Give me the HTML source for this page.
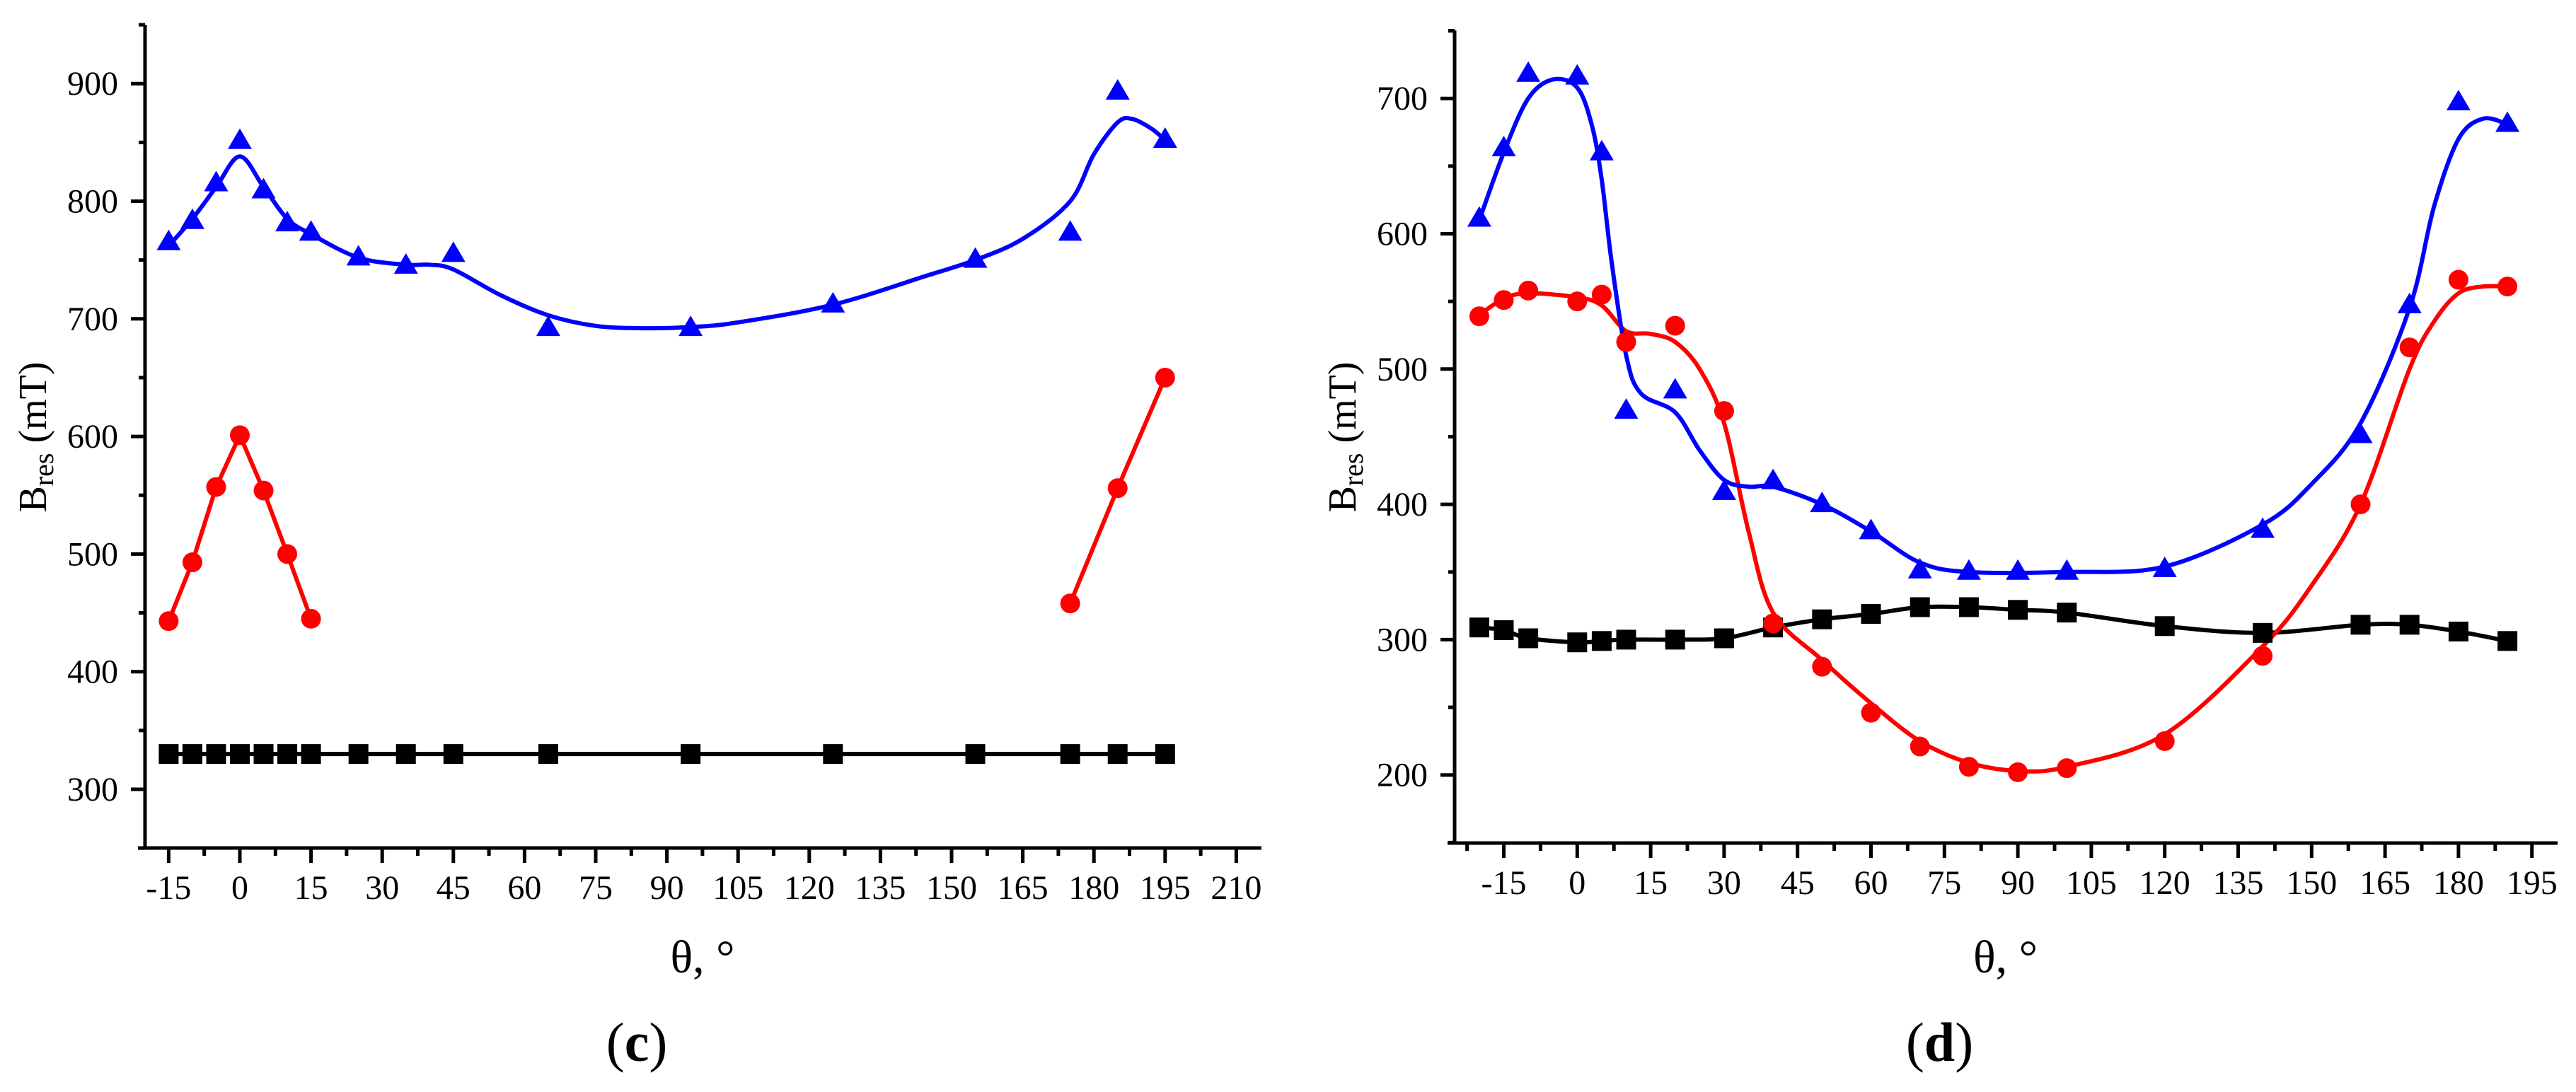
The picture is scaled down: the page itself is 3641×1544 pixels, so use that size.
<!DOCTYPE html>
<html><head><meta charset="utf-8"><style>
html,body{margin:0;padding:0;background:#fff;}
svg{display:block;font-family:"Liberation Serif",serif;}
</style></head><body>
<svg id="fig" width="3641" height="1544" viewBox="0 0 3641 1544" xmlns="http://www.w3.org/2000/svg"></svg>
<script>
// ---- Panel (c) data ----
const cX = [-15,-10,-5,0,5,10,15,25,35,45,65,95,125,155,175,185,195];
const cBlue = [765,783,815,851,809,781,773,752,745,755,692,692,712,750,773,893,852];
const cBlack = [330,330,330,330,330,330,330,330,330,330,330,330,330,330,330,330,330];
const cRedX1 = [-15,-10,-5,0,5,10,15];
const cRed1 = [443,493,557,601,554,500,445];
const cRedX2 = [175,185,195];
const cRed2 = [458,556,650];
const cFitX = [-15,-10,-5,0,5,10,15,25,35,40,45,55,65,75,85,95,105,125,145,155,165,175,180,185,188,192,195];
const cFitBlue = [762,785,812,838,812,785,772,752,746,746,742,720,703,694,692,693,697,712,737,750,768,800,840,867,870,862,852];
const cXTicks = [-15,0,15,30,45,60,75,90,105,120,135,150,165,180,195,210];
const cYTicks = [300,400,500,600,700,800,900];

// ---- Panel (d) data ----
const dX = [-20,-15,-10,0,5,10,20,30,40,50,60,70,80,90,100,120,140,160,170,180,190];
const dBlue = [611,663,718,716,660,469,484,409,417,400,380,351,350,350,350,352,381,451,547,697,681];
const dRed = [539,551,558,550,555,520,532,469,312,280,246,221,206,202,205,225,288,400,516,566,561];
const dBlack = [309,307,301,298,299,300,300,301,309,315,319,324,324,322,320,310,305,311,311,306,299];
const dFitBlueX = [-20,-15,-10,-5,0,3,5,7,10,13,20,25,30,35,40,50,60,70,80,100,120,140,150,160,170,175,180,185,190];
const dFitBlue = [610,660,700,714,708,680,640,580,510,482,468,440,418,413,413,400,380,357,350,350,354,385,415,460,545,620,670,685,681];
const dFitRedX = [-20,-15,-10,0,5,10,15,20,25,30,35,40,50,60,70,80,90,100,120,140,150,160,170,175,180,185,190];
const dFitRed = [540,552,556,553,547,528,526,520,500,460,380,320,285,253,225,209,203,206,230,295,340,400,500,535,556,561,561];
const dXTicks = [-15,0,15,30,45,60,75,90,105,120,135,150,165,180,195];
const dYTicks = [200,300,400,500,600,700];

const NS = "http://www.w3.org/2000/svg";
const svg = document.getElementById('fig');
function el(tag, attrs, parent){ const e=document.createElementNS(NS,tag); for(const k in attrs) e.setAttribute(k,attrs[k]); (parent||svg).appendChild(e); return e; }

function catmull(pts){
  if(pts.length<2) return '';
  let d='M'+pts[0][0].toFixed(1)+','+pts[0][1].toFixed(1);
  for(let i=0;i<pts.length-1;i++){
    const p0=pts[i-1]||pts[i], p1=pts[i], p2=pts[i+1], p3=pts[i+2]||pts[i+1];
    const c1=[p1[0]+(p2[0]-p0[0])/6, p1[1]+(p2[1]-p0[1])/6];
    const c2=[p2[0]-(p3[0]-p1[0])/6, p2[1]-(p3[1]-p1[1])/6];
    d+=' C'+c1[0].toFixed(1)+','+c1[1].toFixed(1)+' '+c2[0].toFixed(1)+','+c2[1].toFixed(1)+' '+p2[0].toFixed(1)+','+p2[1].toFixed(1);
  }
  return d;
}

function panel(cfg){
  const g = el('g',{});
  
  
  const X = v => cfg.x0 + (v - cfg.xv0) * cfg.xs;
  const Y = v => cfg.y0 - (v - cfg.yv0) * cfg.ys;
  const ya = el('line',{x1:cfg.axX,y1:cfg.axTop,x2:cfg.axX,y2:cfg.axY+2.5,stroke:'#000','stroke-width':5},g);
   
  const xa = el('line',{x1:cfg.axL,y1:cfg.axY,x2:cfg.axR,y2:cfg.axY,stroke:'#000','stroke-width':5},g);
   
  for(let v=cfg.yMin; v<=cfg.yMax+0.1; v+=50){
    const y=Y(v), major = cfg.yTicks.includes(v);
    el('line',{x1:cfg.axX-(major?20:9),y1:y,x2:cfg.axX,y2:y,stroke:'#000','stroke-width':5},g);
  }
  cfg.yTicks.forEach(v=>{
    const t=el('text',{x:cfg.axX-38,y:Y(v)+16,'font-size':48,'text-anchor':'end',fill:'#000'},g);
    t.textContent=v;
     
  });
  for(let v=cfg.xMinorStart; v<=cfg.xMax+0.1; v+=7.5){
    const x=X(v), major = cfg.xTicks.includes(v);
    el('line',{x1:x,y1:cfg.axY,x2:x,y2:cfg.axY+(major?21:11),stroke:'#000','stroke-width':5},g);
  }
  cfg.xTicks.forEach(v=>{
    const t=el('text',{x:X(v),y:cfg.axY+72,'font-size':48,'text-anchor':'middle',fill:'#000'},g);
    t.textContent=v;
     
  });
  const yt=el('text',{transform:`translate(${cfg.axX-140},${cfg.yTitleY}) rotate(-90)`,'font-size':56,'text-anchor':'middle',fill:'#000'},g);
  yt.innerHTML='B<tspan font-size="40" dy="10">res</tspan><tspan dy="-10"> (mT)</tspan>';
   
  const xt=el('text',{x:(cfg.axL+cfg.axR)/2+4,y:1375,'font-size':66,'text-anchor':'middle',fill:'#000'},g);
  xt.textContent='θ, °';
   
  const pl=el('text',{x:(cfg.axL+cfg.axR)/2-89,y:1500,'font-size':78,'text-anchor':'middle',fill:'#000'},g);
  pl.innerHTML='(<tspan font-weight="bold">'+cfg.letter+'</tspan>)';
   
  return {g,X,Y};
}

function drawLine(p, xs, ys, color, smooth, name){
  const pts = xs.map((v,i)=>[p.X(v), p.Y(ys[i])]);
  const d = smooth ? catmull(pts) : 'M'+pts.map(q=>q[0].toFixed(1)+','+q[1].toFixed(1)).join(' L');
  const path = el('path',{d:d,fill:'none',stroke:color,'stroke-width':6,'stroke-linejoin':'round'},p.g);
  
  
}
function drawMarkers(p, xs, ys, color, shape, name){
  xs.forEach((v,i)=>{
    const x=p.X(v), y=p.Y(ys[i]);
    let m;
    if(shape==='square') m=el('rect',{x:x-14,y:y-14,width:28,height:28,fill:color},p.g);
    else if(shape==='circle') m=el('circle',{cx:x,cy:y,r:14,fill:color},p.g);
    else m=el('polygon',{points:`${x},${y-18} ${x-17},${y+11} ${x+17},${y+11}`,fill:color},p.g);
    
    
  });
}

// Panel (c)
const pc = panel({name:'chart-c',letter:'c',x0:339,xv0:0,xs:100.6/15,y0:1116,yv0:300,ys:1.663,
  axX:205,axY:1199,axTop:35,axL:195,axR:1783,yMin:250,yMax:950,yTicks:cYTicks,xTicks:cXTicks,
  xMinorStart:-15,xMax:210,yTitleY:618});
drawLine(pc, cX, cBlack, '#000', false, 'black-series-line');
drawLine(pc, cRedX1, cRed1, '#ff0000', false, 'red-series-line-1');
drawLine(pc, cRedX2, cRed2, '#ff0000', false, 'red-series-line-2');
drawLine(pc, cFitX, cFitBlue, '#0000ff', true, 'blue-fit-curve');
drawMarkers(pc, cX, cBlack, '#000', 'square', 'black-square-point');
drawMarkers(pc, cRedX1, cRed1, '#ff0000', 'circle', 'red-circle-point');
drawMarkers(pc, cRedX2, cRed2, '#ff0000', 'circle', 'red-circle-point');
drawMarkers(pc, cX, cBlue, '#0000ff', 'tri', 'blue-triangle-point');

// Panel (d)
const pd = panel({name:'chart-d',letter:'d',x0:2229.3,xv0:0,xs:6.92,y0:1095.7,yv0:200,ys:1.913,
  axX:2056,axY:1192,axTop:43,axL:2046,axR:3615,yMin:150,yMax:750,yTicks:dYTicks,xTicks:dXTicks,
  xMinorStart:-22.5,xMax:195,yTitleY:618});
drawLine(pd, dX, dBlack, '#000', true, 'black-fit-curve');
drawLine(pd, dFitRedX, dFitRed, '#ff0000', true, 'red-fit-curve');
drawLine(pd, dFitBlueX, dFitBlue, '#0000ff', true, 'blue-fit-curve');
drawMarkers(pd, dX, dBlack, '#000', 'square', 'black-square-point');
drawMarkers(pd, dX, dRed, '#ff0000', 'circle', 'red-circle-point');
drawMarkers(pd, dX, dBlue, '#0000ff', 'tri', 'blue-triangle-point');
</script>
</body></html>
